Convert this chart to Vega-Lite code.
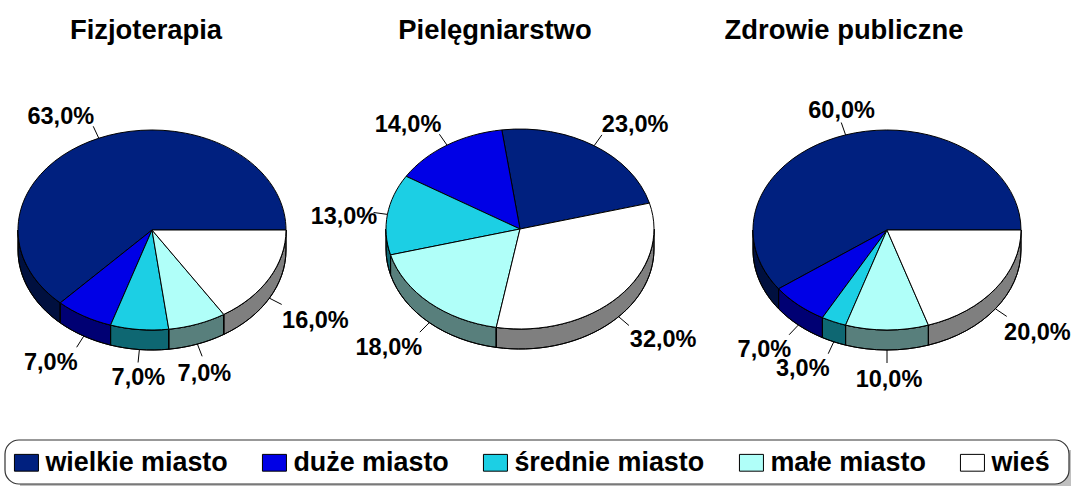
{
"$schema":"https://vega.github.io/schema/vega-lite/v6.json",
"width":1071,"height":486,"padding":0,"autosize":{"type":"fit","contains":"padding"},
"background":"white",
"view":{"stroke":null},
"config":{"view":{"stroke":null},"text":{"font":"Liberation Sans"}},
"datasets":{
"shares":[
{"pie":"Fizjoterapia","segment":"wielkie miasto","value":63},
{"pie":"Fizjoterapia","segment":"duże miasto","value":7},
{"pie":"Fizjoterapia","segment":"średnie miasto","value":7},
{"pie":"Fizjoterapia","segment":"małe miasto","value":7},
{"pie":"Fizjoterapia","segment":"wieś","value":16},
{"pie":"Pielęgniarstwo","segment":"wielkie miasto","value":23},
{"pie":"Pielęgniarstwo","segment":"duże miasto","value":14},
{"pie":"Pielęgniarstwo","segment":"średnie miasto","value":13},
{"pie":"Pielęgniarstwo","segment":"małe miasto","value":18},
{"pie":"Pielęgniarstwo","segment":"wieś","value":32},
{"pie":"Zdrowie publiczne","segment":"wielkie miasto","value":60},
{"pie":"Zdrowie publiczne","segment":"duże miasto","value":7},
{"pie":"Zdrowie publiczne","segment":"średnie miasto","value":3},
{"pie":"Zdrowie publiczne","segment":"małe miasto","value":10},
{"pie":"Zdrowie publiczne","segment":"wieś","value":20}
],
"titles":[{"pie":"Fizjoterapia"},{"pie":"Pielęgniarstwo"},{"pie":"Zdrowie publiczne"}],
"box":[{"part":"legend box"}]
},
"data":{"name":"shares"},
"transform":[
{"window":[{"op":"sum","field":"value","as":"cum"},{"op":"row_number","as":"n"}],"groupby":["pie"],"frame":[null,0]},
{"calculate":"indexof(['Fizjoterapia','Pielęgniarstwo','Zdrowie publiczne'],datum.pie)","as":"p"},
{"calculate":"[152,520,887][datum.p]","as":"cx"},
{"calculate":"[230,229,230][datum.p]","as":"cy"},
{"calculate":"[0,15,0][datum.p]","as":"rot"},
{"calculate":"(datum.rot+(datum.cum-datum.value)*3.6)*PI/180","as":"a"},
{"calculate":"(datum.rot+datum.cum*3.6)*PI/180","as":"b"},
{"calculate":"(datum.a+datum.b)/2","as":"m"},
{"calculate":"max(datum.a,PI)","as":"s"},
{"calculate":"min(datum.b,2*PI)","as":"e"},
{"calculate":"'M0,0L'+round(134*cos(datum.a)*100)/100+','+round(-100*sin(datum.a)*100)/100+'A134,100 0 '+(datum.b-datum.a>PI?1:0)+' 0 '+round(134*cos(datum.b)*100)/100+','+round(-100*sin(datum.b)*100)/100+'Z'","as":"wedge"},
{"calculate":"'M'+round(134*cos(datum.s)*100)/100+','+round(-100*sin(datum.s)*100)/100+'A134,100 0 0 0 '+round(134*cos(datum.e)*100)/100+','+round(-100*sin(datum.e)*100)/100+'L'+round(134*cos(datum.e)*100)/100+','+round((20-100*sin(datum.e))*100)/100+'A134,100 0 0 1 '+round(134*cos(datum.s)*100)/100+','+round((20-100*sin(datum.s))*100)/100+'Z'","as":"side"},
{"calculate":"datum.cx+134*cos(datum.m)","as":"ax"},
{"calculate":"datum.cy-100*sin(datum.m)+(sin(datum.m)<0?20:0)","as":"ay"},
{"calculate":"datum.ax+14*cos(datum.m)","as":"lx2"},
{"calculate":"datum.ay-13*sin(datum.m)","as":"ly2"},
{"calculate":"datum.ax+[[-38,-33,-1,7,46],[41,-39,-43.5,-40.5,44.5],[-4,-34,-31,2,42]][datum.p][datum.n-1]","as":"tx"},
{"calculate":"datum.ay+[[-23,25,27,28,21],[-22,-22,1.2,23.8,22.3],[-25,23,26,28,23]][datum.p][datum.n-1]","as":"ty"},
{"calculate":"replace(format(datum.value,'.1f'),'.',',')+'%'","as":"label"}
],
"layer":[
{"data":{"name":"box"},"mark":{"type":"rect","fill":"#c0c0c0"},
 "encoding":{"x":{"datum":20,"type":"quantitative","scale":{"domain":[0,1071],"range":[0,1071],"nice":false,"zero":false},"axis":null},"x2":{"datum":1071},"y":{"datum":450,"type":"quantitative","scale":{"domain":[0,486],"range":[0,486],"nice":false,"zero":false},"axis":null},"y2":{"datum":486}}},
{"data":{"name":"box"},"mark":{"type":"rect","fill":"#ffffff","stroke":"#333333","strokeWidth":1.2,"cornerRadius":14},
 "encoding":{"x":{"datum":5,"type":"quantitative"},"x2":{"datum":1069},"y":{"datum":440,"type":"quantitative"},"y2":{"datum":484}}},
{"transform":[{"filter":"datum.e>datum.s"}],
 "mark":{"type":"point","filled":true,"opacity":1,"stroke":"#000","strokeWidth":1},
 "encoding":{
  "x":{"field":"cx","type":"quantitative"},"y":{"field":"cy","type":"quantitative"},
  "size":{"value":4},
  "shape":{"field":"side","type":"nominal","scale":null,"legend":null},
  "color":{"field":"segment","type":"nominal"}}},
{"transform":[{"filter":"datum.e>datum.s"}],
 "mark":{"type":"point","filled":true,"fill":"#000","fillOpacity":0.5,"opacity":1,"stroke":"#000","strokeWidth":1},
 "encoding":{
  "x":{"field":"cx","type":"quantitative"},"y":{"field":"cy","type":"quantitative"},
  "size":{"value":4},
  "shape":{"field":"side","type":"nominal","scale":null,"legend":null}}},
{"mark":{"type":"point","filled":true,"opacity":1,"stroke":"#000","strokeWidth":1},
 "encoding":{
  "x":{"field":"cx","type":"quantitative"},"y":{"field":"cy","type":"quantitative"},
  "size":{"value":4},
  "shape":{"field":"wedge","type":"nominal","scale":null,"legend":null},
  "tooltip":{"field":"label"},
  "color":{"field":"segment","type":"nominal","sort":null,
   "scale":{"domain":["wielkie miasto","duże miasto","średnie miasto","małe miasto","wieś"],"range":["#00207F","#0000E6","#1CCFE4","#B0FFF9","#FFFFFF"]},
   "legend":{"title":null,"orient":"none","legendX":5,"legendY":441,"direction":"horizontal","columns":5,"columnPadding":32,
    "padding":8,
    "symbolType":"M-1,-0.7H1V0.7H-1Z","symbolSize":576,"symbolStrokeColor":"#000","symbolStrokeWidth":1,"symbolOpacity":1,
    "labelFont":"Liberation Sans","labelFontWeight":"bold","labelFontSize":26.9,"labelColor":"#000","labelOffset":5.5,"labelLimit":400,
    "labelExpr":"datum.label=='średnie miasto'?datum.label+'\u00a0':datum.label"}}}},
{"mark":{"type":"rule","stroke":"#000","strokeWidth":1},
 "encoding":{"x":{"field":"ax","type":"quantitative"},"y":{"field":"ay","type":"quantitative"},"x2":{"field":"lx2"},"y2":{"field":"ly2"}}},
{"mark":{"type":"text","font":"Liberation Sans","fontWeight":"bold","fontSize":23.5,"dy":1.5,"color":"#000","align":"center","baseline":"middle"},
 "encoding":{"x":{"field":"tx","type":"quantitative"},"y":{"field":"ty","type":"quantitative"},"text":{"field":"label"}}},
{"data":{"name":"titles"},
 "transform":[{"calculate":"indexof(['Fizjoterapia','Pielęgniarstwo','Zdrowie publiczne'],datum.pie)","as":"p"},{"calculate":"[146,495,844][datum.p]","as":"tx"},{"calculate":"30","as":"ty"}],
 "mark":{"type":"text","font":"Liberation Sans","fontWeight":"bold","fontSize":27.4,"dy":1,"color":"#000","align":"center","baseline":"middle"},
 "encoding":{"x":{"field":"tx","type":"quantitative"},"y":{"field":"ty","type":"quantitative"},"text":{"field":"pie"}}}
]
}
